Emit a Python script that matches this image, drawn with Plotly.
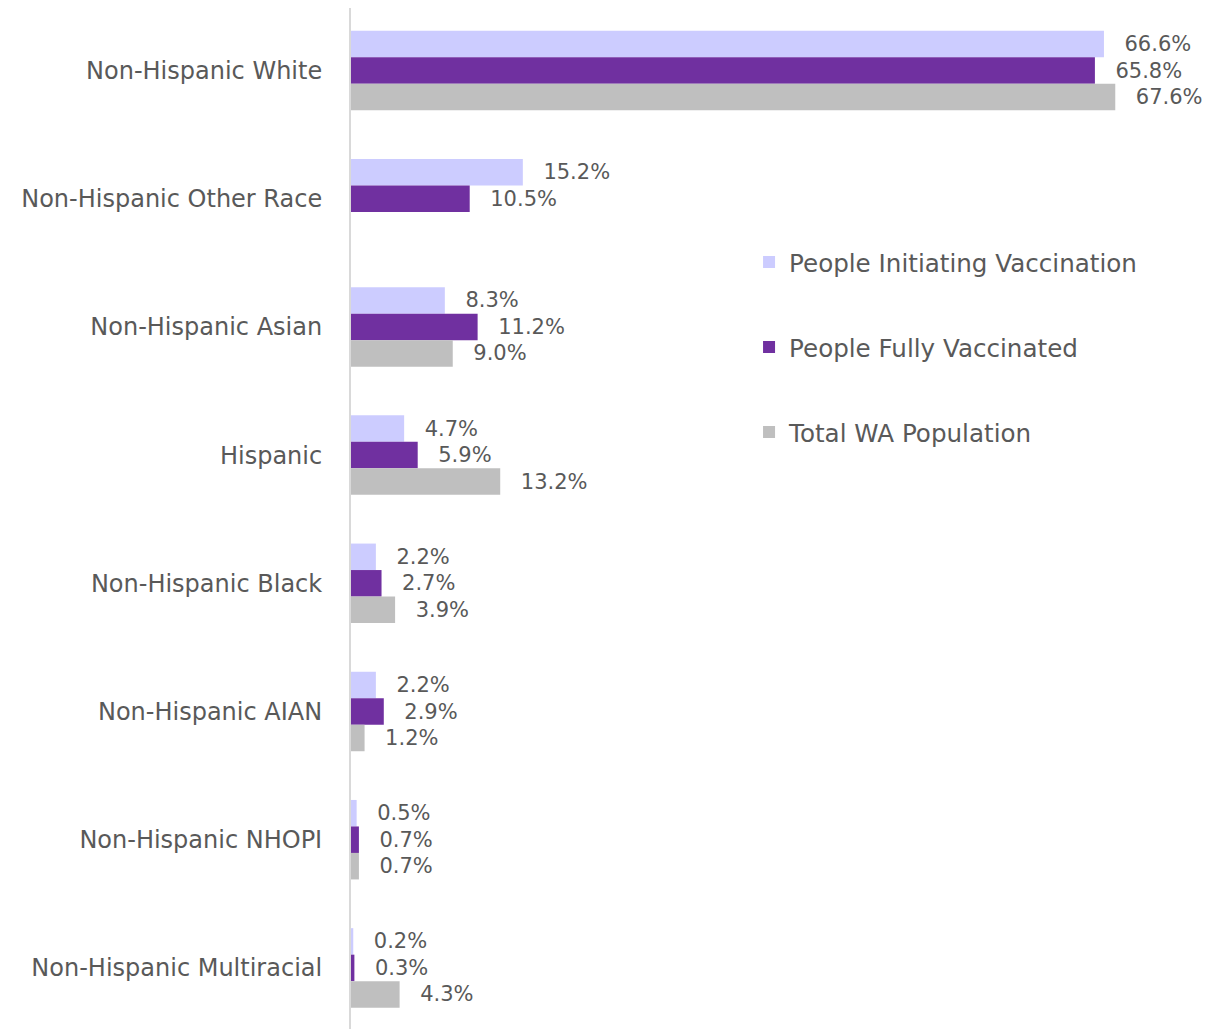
import plotly.graph_objects as go

categories = [
    "Non-Hispanic White",
    "Non-Hispanic Other Race",
    "Non-Hispanic Asian",
    "Hispanic",
    "Non-Hispanic Black",
    "Non-Hispanic AIAN",
    "Non-Hispanic NHOPI",
    "Non-Hispanic Multiracial",
]
initiating = [66.6, 15.2, 8.3, 4.7, 2.2, 2.2, 0.5, 0.2]
fully = [65.8, 10.5, 11.2, 5.9, 2.7, 2.9, 0.7, 0.3]
total_pop = [67.6, None, 9.0, 13.2, 3.9, 1.2, 0.7, 4.3]

series_names = ["People Initiating Vaccination", "People Fully Vaccinated", "Total WA Population"]
series_values = [initiating, fully, total_pop]
colors = ["#CCCCFF", "#7030A0", "#BFBFBF"]

FONT = "DejaVu Sans"
TXT = "#595959"
PAD = "\u00a0\u00a0\u2009"

fig = go.Figure()
for name, vals, col in zip(series_names, series_values, colors):
    fig.add_trace(go.Bar(
        y=categories,
        x=vals,
        name=name,
        orientation="h",
        marker=dict(color=col, line=dict(width=0)),
        text=[(PAD + f"{v:.1f}%") if v is not None else "" for v in vals],
        textposition="outside",
        textfont=dict(family=FONT, size=21, color=TXT),
        constraintext="none",
        cliponaxis=False,
        legendgroup=name,
    ))

fig.update_layout(
    width=1225,
    height=1029,
    barmode="group",
    bargap=0.38,
    bargroupgap=0,
    paper_bgcolor="white",
    plot_bgcolor="white",
    margin=dict(l=343, r=68, t=0, b=0),
    font=dict(family=FONT, color=TXT),
    xaxis=dict(range=[0, 72], visible=False, fixedrange=True),
    yaxis=dict(
        range=[7.539, -0.4875],
        showline=True,
        linecolor="#D9D9D9",
        linewidth=2,
        showgrid=False,
        ticks="",
        ticklabelstandoff=22,
        tickfont=dict(family=FONT, size=24, color=TXT),
    ),
    legend=dict(
        x=0.489,
        y=0.775,
        xanchor="left",
        yanchor="top",
        font=dict(family=FONT, size=24.6, color=TXT),
        tracegroupgap=50,
        traceorder="grouped",
        bgcolor="rgba(0,0,0,0)",
    ),
    showlegend=True,
)

fig.write_html("out.html")
